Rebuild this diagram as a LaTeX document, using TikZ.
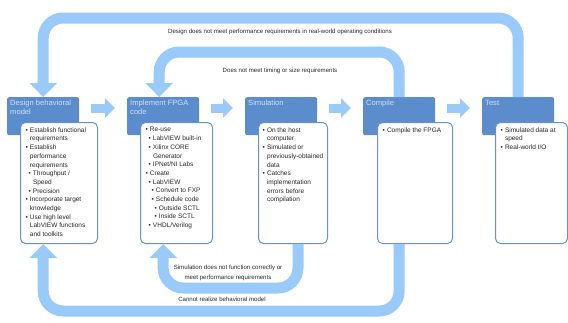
\documentclass[tikz,border=0pt]{standalone}
\usepackage{fontspec}
\setmainfont{Liberation Sans}
\usetikzlibrary{positioning, arrows.meta}

\definecolor{headblue}{RGB}{91,141,204}
\definecolor{bandblue}{RGB}{153,202,250}
\definecolor{edgeblue}{RGB}{104,146,205}
\definecolor{headtext}{RGB}{208,224,244}
\definecolor{bodytext}{RGB}{40,40,40}

% bullet line, optional indent for sub levels
\newcommand{\bitem}[2][0pt]{\par\hangindent=\dimexpr#1+4.5pt\relax\hangafter=1\leavevmode\hspace*{#1}\makebox[4.5pt][l]{\textbullet}#2}
\newcommand{\headtxt}[1]{\parbox[t][32pt][t]{66pt}{#1}}
\newcommand{\stagebody}[2]{\parbox[t][111pt][t]{#1}{\raggedright\fontsize{6.5}{8.7}\selectfont\color{bodytext}#2}}

\begin{document}
\begin{tikzpicture}[x=1pt, y=-1pt,
	head/.style={anchor=north west, fill=headblue, rounded corners=2pt, inner sep=3pt, text=headtext, font=\fontsize{7.6}{9}\selectfont},
	body/.style={anchor=north west, draw=edgeblue, line width=1pt, fill=white, rounded corners=5pt, inner sep=5pt},
	band/.style={draw=bandblue, line width=11pt, rounded corners=20pt, -{Triangle[width=27pt, length=14pt]}},
	stepflow/.style={draw=bandblue, line width=9pt, -{Triangle[width=19pt, length=10pt]}},
	note/.style={text=bodytext, font=\fontsize{6.1}{9.5}\selectfont, align=center}]
	\useasboundingbox (0,0) rectangle (568,322);

	% stage headers
	\node[head] (hdDesign) at (7,97) {\headtxt{Design behavioral\newline model}};
	\node[head] (hdImpl) at (127,97) {\headtxt{Implement FPGA\newline code}};
	\node[head] (hdSim) at (245,97) {\headtxt{Simulation}};
	\node[head] (hdComp) at (363,97) {\headtxt{Compile}};
	\node[head] (hdTest) at (482,97) {\headtxt{Test}};

	% stage contents
	\node[body] (bxDesign) at (20,122) {\stagebody{67pt}{%
		\bitem{Establish functional\newline requirements}
		\bitem{Establish\newline performance\newline requirements}
		\bitem[3pt]{Throughput /\newline Speed}
		\bitem[3pt]{Precision}
		\bitem{Incorporate target\newline knowledge}
		\bitem{Use high level\newline LabVIEW functions\newline and toolkits}}};
	\node[body] (bxImpl) at (140,122) {\stagebody{62pt}{%
		\bitem{Re-use}
		\bitem[3pt]{LabVIEW built-in}
		\bitem[3pt]{Xilinx CORE\newline Generator}
		\bitem[3pt]{IPNet/NI Labs}
		\bitem{Create}
		\bitem[3pt]{LabVIEW}
		\bitem[6pt]{Convert to FXP}
		\bitem[6pt]{Schedule code}
		\bitem[9pt]{Outside SCTL}
		\bitem[9pt]{Inside SCTL}
		\bitem[3pt]{VHDL/Verilog}}};
	\node[body, inner xsep=4pt] (bxSim) at (258,122) {\stagebody{61pt}{%
		\bitem{On the host\newline computer}
		\bitem{Simulated or\newline \mbox{previously-obtained}\newline data}
		\bitem{Catches\newline implementation\newline errors before\newline compilation}}};
	\node[body] (bxComp) at (377,122) {\stagebody{65pt}{%
		\bitem{Compile the FPGA}}};
	\node[body] (bxTest) at (495,122) {\stagebody{62pt}{%
		\bitem{Simulated data at\newline speed}
		\bitem{Real-world I/O}}};

	% forward steps
	\foreach \a/\b in {hdDesign/hdImpl, hdImpl/hdSim, hdSim/hdComp, hdComp/hdTest}
		\draw[stepflow] ([shift={(12,11)}]\a.north east) -- ([shift={(-12,11)}]\b.north west);

	% feedback loops
	\coordinate (topOut) at (0,18);
	\coordinate (topIn) at (0,52);
	\coordinate (lowIn) at (0,288);
	\coordinate (lowOut) at (0,311);

	\draw[band] (hdTest.north) -- (hdTest.north |- topOut) -- (hdDesign.north |- topOut) -- (hdDesign.north);
	\draw[band] (hdComp.north) -- (hdComp.north |- topIn) -- ([xshift=-4]hdImpl.north |- topIn) -- ([xshift=-4]hdImpl.north);
	\draw[band] ([xshift=5]bxSim.south) -- ([xshift=5]bxSim.south |- lowIn) -- (hdImpl.center |- lowIn) -- (hdImpl.center |- bxImpl.south);
	\draw[band] (hdComp.center |- bxComp.south) -- (hdComp.center |- lowOut) -- (hdDesign.center |- lowOut) -- (hdDesign.center |- bxDesign.south);

	\node[note] (msgOut) at (280,32) {Design does not meet performance requirements in real-world operating conditions};
	\node[note] (msgIn) at (280,71) {Does not meet timing or size requirements};
	\node[note] (msgSim) at (228,273) {Simulation does not function correctly or\\meet performance requirements};
	\node[note] (msgLow) at (222,299) {Cannot realize behavioral model};
\end{tikzpicture}
\end{document}
